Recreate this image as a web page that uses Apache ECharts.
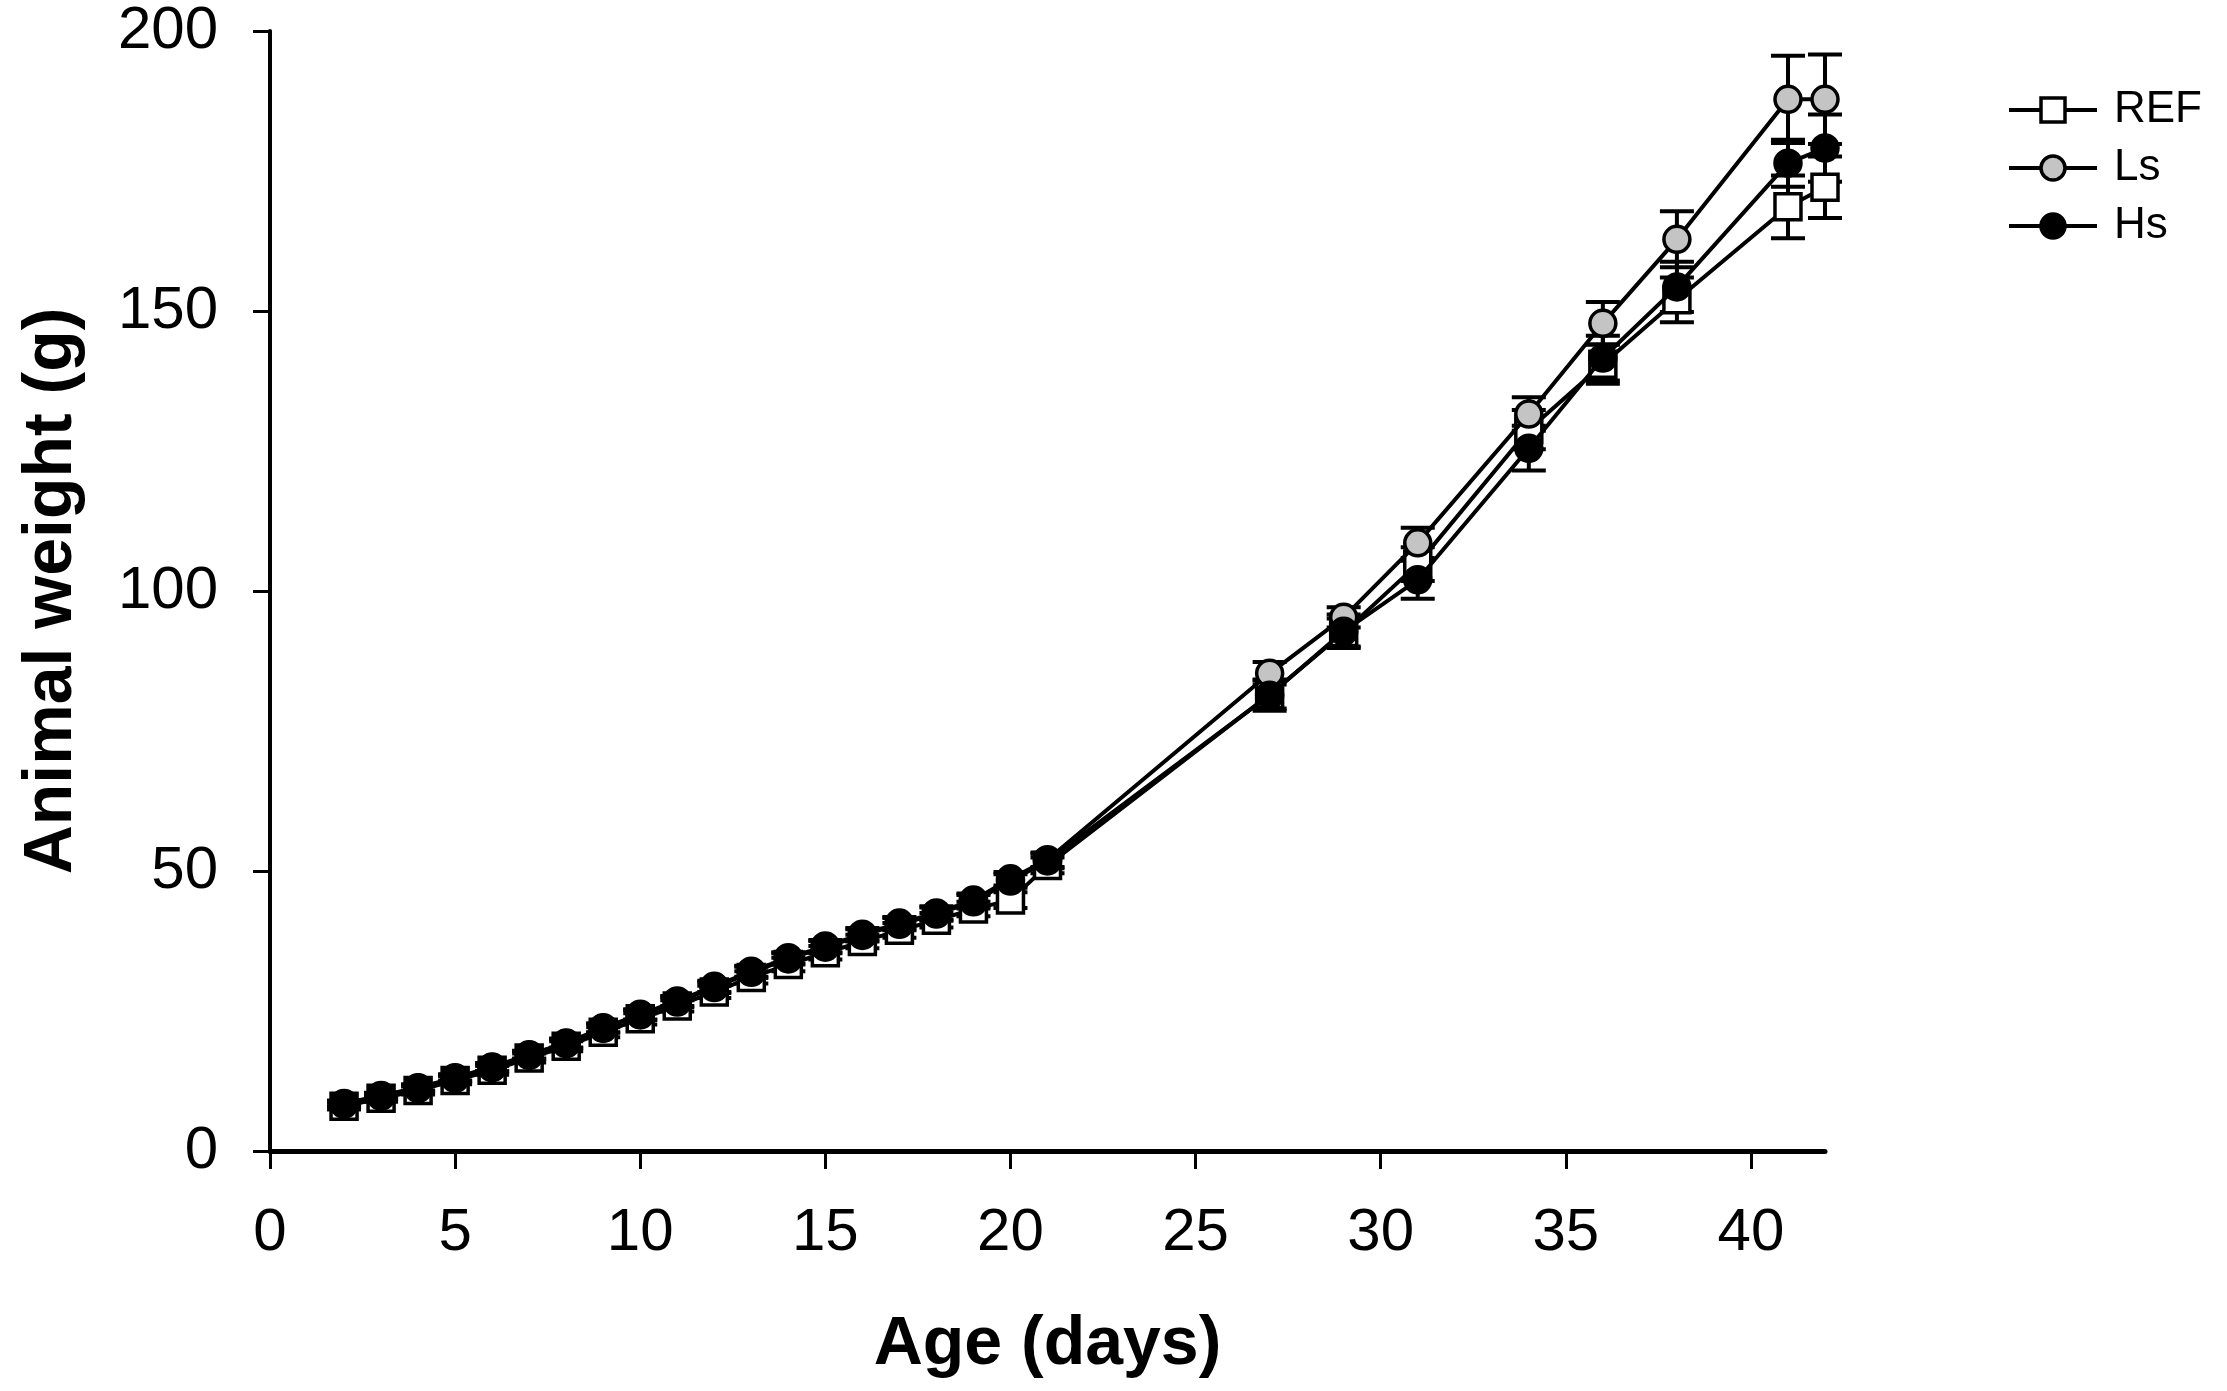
<!DOCTYPE html>
<html>
<head>
<meta charset="utf-8">
<title>Animal weight</title>
<script src="https://cdn.jsdelivr.net/npm/echarts@6/dist/echarts.min.js"></script>
<style>
html, body { margin: 0; padding: 0; background: #fff; }
#chart { width: 2227px; height: 1391px; }
</style>
</head>
<body>
<div id="chart"></div>
<script>
// age (days)
var days = [2, 3, 4, 5, 6, 7, 8, 9, 10, 11, 12, 13, 14, 15, 16, 17, 18, 19, 20, 21, 27, 29, 31, 34, 36, 38, 41, 42];

// mean weights (g)
var refMean = [8.0, 9.4, 10.8, 12.6, 14.4, 16.6, 18.7, 21.2, 23.6, 25.9, 28.4, 31.0, 33.3, 35.4, 37.4, 39.4, 41.2, 43.2, 44.8, 51.0, 81.5, 92.6, 104.8, 128.8, 140.5, 152.0, 168.6, 172.1];
var lsMean = [8.5, 9.9, 11.3, 13.1, 15.0, 17.2, 19.3, 22.0, 24.4, 26.8, 29.4, 32.1, 34.5, 36.6, 38.7, 40.7, 42.5, 44.8, 48.6, 52.0, 85.3, 95.3, 108.6, 131.6, 147.8, 162.8, 187.8, 187.8];
var hsMean = [8.4, 9.8, 11.2, 13.0, 14.9, 17.1, 19.2, 21.9, 24.3, 26.6, 29.2, 31.9, 34.3, 36.4, 38.5, 40.5, 42.3, 44.5, 48.2, 51.8, 81.4, 92.8, 102.0, 125.5, 141.6, 154.3, 176.4, 179.1];

// standard errors (g)
var refSe = [0.6, 0.6, 0.7, 0.7, 0.8, 0.8, 0.9, 0.9, 1.0, 1.0, 1.1, 1.1, 1.2, 1.2, 1.2, 1.3, 1.3, 1.3, 1.4, 1.4, 2.5, 2.5, 3.0, 3.5, 3.5, 4.0, 5.6, 5.5];
var lsSe = [0.5, 0.5, 0.6, 0.6, 0.7, 0.7, 0.8, 0.8, 0.9, 0.9, 1.0, 1.0, 1.0, 1.1, 1.1, 1.1, 1.2, 1.2, 1.2, 1.3, 2.0, 1.8, 2.7, 3.0, 3.8, 5.0, 7.8, 8.0];
var hsSe = [0.5, 0.5, 0.6, 0.6, 0.7, 0.7, 0.8, 0.8, 0.9, 0.9, 1.0, 1.0, 1.0, 1.1, 1.1, 1.1, 1.2, 1.2, 1.2, 1.3, 2.8, 3.0, 3.4, 4.0, 4.0, 4.5, 4.2, 6.0];

// tick labels
var xTicks = [0, 5, 10, 15, 20, 25, 30, 35, 40];
var yTicks = [0, 50, 100, 150, 200];

var FONT = '"Liberation Sans", Arial, sans-serif';

function pairs(mean) {
	var out = [];
	for (var i = 0; i < days.length; i++) out.push([days[i], mean[i]]);
	return out;
}

function errData(mean, se) {
	var out = [];
	for (var i = 0; i < days.length; i++) out.push([days[i], mean[i] - se[i], mean[i] + se[i]]);
	return out;
}

/**
 * 误差线
 */
function renderErr(params, api) {
	var lo = api.coord([api.value(0), api.value(1)]);
	var hi = api.coord([api.value(0), api.value(2)]);
	var half = 17;
	var style = { stroke: '#000', lineWidth: 4 };
	return {
		type: 'group',
		children: [
			{ type: 'line', shape: { x1: lo[0], y1: lo[1], x2: hi[0], y2: hi[1] }, style: style },
			{ type: 'line', shape: { x1: lo[0] - half, y1: lo[1], x2: lo[0] + half, y2: lo[1] }, style: style },
			{ type: 'line', shape: { x1: hi[0] - half, y1: hi[1], x2: hi[0] + half, y2: hi[1] }, style: style }
		]
	};
}

function errSeries(mean, se, z) {
	return {
		type: 'custom',
		renderItem: renderErr,
		data: errData(mean, se),
		encode: { x: 0, y: [1, 2] },
		silent: true,
		z: z
	};
}

function lineSeries(name, mean, symbol, fill, z) {
	return {
		name: name,
		type: 'line',
		data: pairs(mean),
		symbol: symbol,
		symbolSize: 26,
		showAllSymbol: true,
		lineStyle: { color: '#000', width: 4 },
		itemStyle: { color: fill, borderColor: '#000', borderWidth: 3.5 },
		emphasis: { disabled: true },
		z: z
	};
}

var chart = echarts.init(document.getElementById('chart'));

var option = {
	backgroundColor: '#fff',
	animation: false,
	textStyle: { fontFamily: FONT, color: '#000' },
	grid: { left: 270, top: 31, right: 402, bottom: 240 },
	legend: {
		left: 2002,
		top: 83,
		orient: 'vertical',
		itemWidth: 88,
		itemHeight: 30,
		itemGap: 14,
		lineStyle: { color: '#000', width: 4 },
		itemStyle: { borderColor: '#000', borderWidth: 3.5 },
		textStyle: { fontFamily: FONT, fontSize: 44, color: '#000', lineHeight: 44, padding: [0, 0, 0, 12] },
		data: ['REF', 'Ls', 'Hs']
	},
	xAxis: {
		type: 'value',
		min: 0,
		max: 42,
		interval: 5,
		name: 'Age (days)',
		nameLocation: 'middle',
		nameGap: 160,
		nameTextStyle: { fontFamily: FONT, fontSize: 68, fontWeight: 'bold', color: '#000' },
		axisLine: { show: true, onZero: false, lineStyle: { color: '#000', width: 5 } },
		axisTick: { show: true, inside: false, length: 18, lineStyle: { color: '#000', width: 3 }, customValues: xTicks },
		axisLabel: { fontFamily: FONT, fontSize: 60, color: '#000', margin: 52, customValues: xTicks },
		splitLine: { show: false }
	},
	yAxis: {
		type: 'value',
		min: 0,
		max: 200,
		interval: 50,
		name: 'Animal weight (g)',
		nameLocation: 'middle',
		nameGap: 184,
		nameTextStyle: { fontFamily: FONT, fontSize: 68, fontWeight: 'bold', color: '#000' },
		axisLine: { show: true, lineStyle: { color: '#000', width: 4 } },
		axisTick: { show: true, inside: false, length: 17, lineStyle: { color: '#000', width: 3 }, customValues: yTicks },
		axisLabel: { fontFamily: FONT, fontSize: 60, color: '#000', margin: 52, customValues: yTicks },
		splitLine: { show: false }
	},
	series: [
		errSeries(refMean, refSe, 1),
		errSeries(lsMean, lsSe, 1),
		errSeries(hsMean, hsSe, 1),
		lineSeries('REF', refMean, 'rect', '#fff', 3),
		lineSeries('Ls', lsMean, 'circle', '#c4c4c4', 4),
		lineSeries('Hs', hsMean, 'circle', '#000', 5)
	]
};

chart.setOption(option);
</script>
</body>
</html>
